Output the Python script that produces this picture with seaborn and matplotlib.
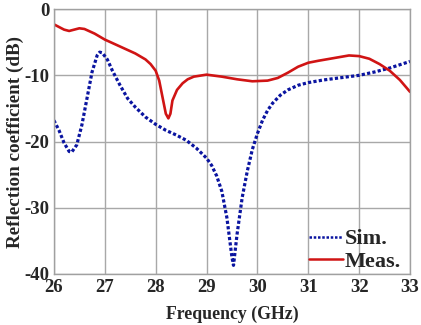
import matplotlib
matplotlib.use("Agg")
import matplotlib.pyplot as plt
import seaborn as sns
import pandas as pd

sim_freq = [26.0, 26.1, 26.2, 26.3, 26.35, 26.45, 26.55, 26.65, 26.75, 26.85, 26.9, 26.95,
            27.05, 27.15, 27.3, 27.45, 27.6, 27.8, 28.0, 28.2, 28.4, 28.6, 28.8, 29.0, 29.1,
            29.2, 29.3, 29.4, 29.5, 29.53, 29.6, 29.7, 29.8, 29.9, 30.0, 30.1, 30.2, 30.3,
            30.45, 30.6, 30.8, 31.0, 31.3, 31.6, 32.0, 32.3, 32.6, 33.0]
sim_db = [-16.8, -18.3, -20.2, -21.5, -21.6, -20.5, -17.5, -13.5, -9.5, -7.0, -6.5, -6.6,
          -7.6, -9.3, -11.5, -13.5, -14.8, -16.3, -17.4, -18.3, -19.0, -19.8, -21.0, -22.5, -23.6,
          -25.2, -27.5, -31.5, -37.5, -38.7, -34.0, -28.5, -24.5, -21.2, -18.8, -16.8, -15.3, -14.2,
          -13.0, -12.2, -11.5, -11.1, -10.7, -10.4, -10.0, -9.5, -8.9, -7.9]

meas_freq = [26.0, 26.1, 26.2, 26.3, 26.4, 26.5, 26.6, 26.8, 27.0, 27.2, 27.4, 27.6, 27.8,
             27.9, 28.0, 28.07, 28.14, 28.2, 28.25, 28.29, 28.33, 28.42, 28.53, 28.63, 28.75,
             29.0, 29.3, 29.6, 29.9, 30.2, 30.4, 30.6, 30.8, 31.0, 31.2, 31.5, 31.8, 32.0,
             32.2, 32.4, 32.6, 32.8, 33.0]
meas_db = [-2.3, -2.7, -3.1, -3.3, -3.1, -2.9, -3.0, -3.7, -4.6, -5.3, -6.0, -6.7, -7.6,
           -8.3, -9.3, -10.8, -13.5, -15.8, -16.5, -15.8, -13.8, -12.2, -11.2, -10.6, -10.2,
           -9.9, -10.2, -10.6, -10.9, -10.8, -10.4, -9.6, -8.7, -8.1, -7.8, -7.4, -7.0, -7.1,
           -7.5, -8.3, -9.3, -10.7, -12.5]

x_ticks = [26, 27, 28, 29, 30, 31, 32, 33]
y_ticks = [-40, -30, -20, -10, 0]

sns.set_theme(style="whitegrid")
plt.rcParams['font.family'] = ['Liberation Serif', 'DejaVu Serif']
plt.rcParams['font.weight'] = 'bold'

fig = plt.figure(figsize=(4.21, 3.25), dpi=100)
ax = fig.add_axes([0.128, 0.157, 0.846, 0.815])

sim_df = pd.DataFrame({"f": sim_freq, "s": sim_db})
meas_df = pd.DataFrame({"f": meas_freq, "s": meas_db})

sns.lineplot(data=sim_df, x="f", y="s", ax=ax, color="#0A14A0", lw=2.3,
             linestyle=(0, (1.0, 0.7)), label="Sim.", sort=False)
sns.lineplot(data=meas_df, x="f", y="s", ax=ax, color="#D01414", lw=1.9,
             label="Meas.", sort=False)

ax.set_xlim(26, 33)
ax.set_ylim(-40, 0)
ax.set_xticks(x_ticks)
ax.set_yticks(y_ticks)
ax.set_xticklabels([str(t) for t in x_ticks], fontsize=13.5, fontweight='bold')
ax.set_yticklabels([str(t) for t in y_ticks], fontsize=13.5, fontweight='bold')
ax.tick_params(axis='y', length=0, pad=3)
ax.tick_params(axis='x', length=0, pad=3.5)
ax.set_xlabel("Frequency (GHz)", fontsize=12.8, fontweight='bold', labelpad=7)
ax.set_ylabel("Reflection coefficient (dB)", fontsize=13.8, fontweight='bold')
ax.yaxis.set_label_coords(-0.083, 0.5)
ax.grid(True, color="#A8A8A8", lw=1.0)
for sp in ax.spines.values():
    sp.set_color("#A0A0A0")
    sp.set_linewidth(1.0)

leg = ax.legend(loc="lower right", bbox_to_anchor=(0.986, -0.008), frameon=False,
                prop={'size': 16, 'weight': 'bold'},
                handlelength=1.55, handletextpad=0.05, labelspacing=0.08,
                borderaxespad=0.1, borderpad=0.1)
for h in leg.get_lines():
    h.set_linewidth(1.8)

fig.savefig("out.png", dpi=100)
